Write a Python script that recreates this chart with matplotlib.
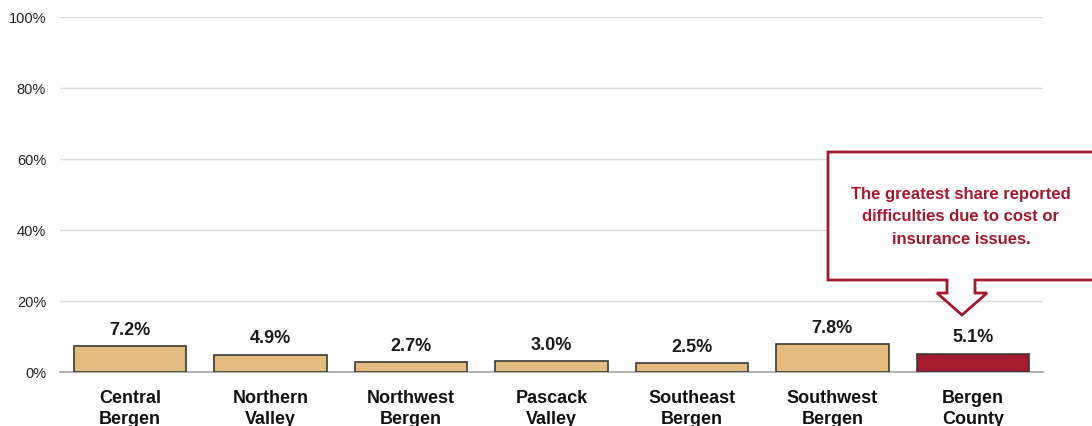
import matplotlib.pyplot as plt
from matplotlib.patches import Polygon

categories = ['Central\nBergen', 'Northern\nValley', 'Northwest\nBergen', 'Pascack\nValley',
              'Southeast\nBergen', 'Southwest\nBergen', 'Bergen\nCounty']
values = [7.2, 4.9, 2.7, 3.0, 2.5, 7.8, 5.1]
labels = ['7.2%', '4.9%', '2.7%', '3.0%', '2.5%', '7.8%', '5.1%']
yticks = [0, 20, 40, 60, 80, 100]
callout = 'The greatest share reported\ndifficulties due to cost or\ninsurance issues.'

plt.rcParams['font.family'] = ['Liberation Sans', 'DejaVu Sans']

W, H = 1092, 427
fig = plt.figure(figsize=(W / 100, H / 100), dpi=100)
ax = fig.add_axes([60 / W, 1 - 373 / H, (1043 - 60) / W, (373 - 18) / H])

tan = '#E4BC7E'
red = '#A3192E'
colors = [tan] * 6 + [red]
x = list(range(len(values)))
ax.bar(x, values, width=0.8, color=colors, edgecolor='#3a3a3a', linewidth=1.2, zorder=3)
for i, v in enumerate(values):
    ax.text(i, v + 2.4, labels[i], ha='center', va='bottom', fontsize=13,
            fontweight='bold', color='#1a1a1a')

ax.set_xlim(-0.5, len(values) - 0.5)
ax.set_ylim(0, 100)
ax.set_yticks(yticks)
ax.set_yticklabels([f'{t}%' for t in yticks], fontsize=10.5, color='#222222')
ax.set_xticks(x)
ax.set_xticklabels(categories, fontsize=13, fontweight='bold', color='#111111',
                   linespacing=1.35)
ax.tick_params(axis='both', length=0)
ax.tick_params(axis='x', pad=12)
ax.tick_params(axis='y', pad=10)
ax.grid(axis='y', color='#d9d9d9', linewidth=1, zorder=0)
for s in ['top', 'right', 'left']:
    ax.spines[s].set_visible(False)
ax.spines['bottom'].set_color('#a6a6a6')
ax.spines['bottom'].set_linewidth(1.2)

# callout box with down arrow
pts = [(828, 153), (1100, 153), (1100, 281), (975, 281), (975, 294), (987, 294),
       (962, 316), (937, 294), (947, 294), (947, 281), (828, 281)]
poly = Polygon([(px / W, 1 - py / H) for px, py in pts], closed=True,
               transform=fig.transFigure, facecolor='white', edgecolor=red,
               linewidth=2, zorder=5)
fig.patches.append(poly)
fig.text(961 / W, 1 - 217 / H, callout, ha='center', va='center', fontsize=12,
         fontweight='bold', color=red, linespacing=1.6, zorder=6)

fig.savefig('out.png', dpi=100)
